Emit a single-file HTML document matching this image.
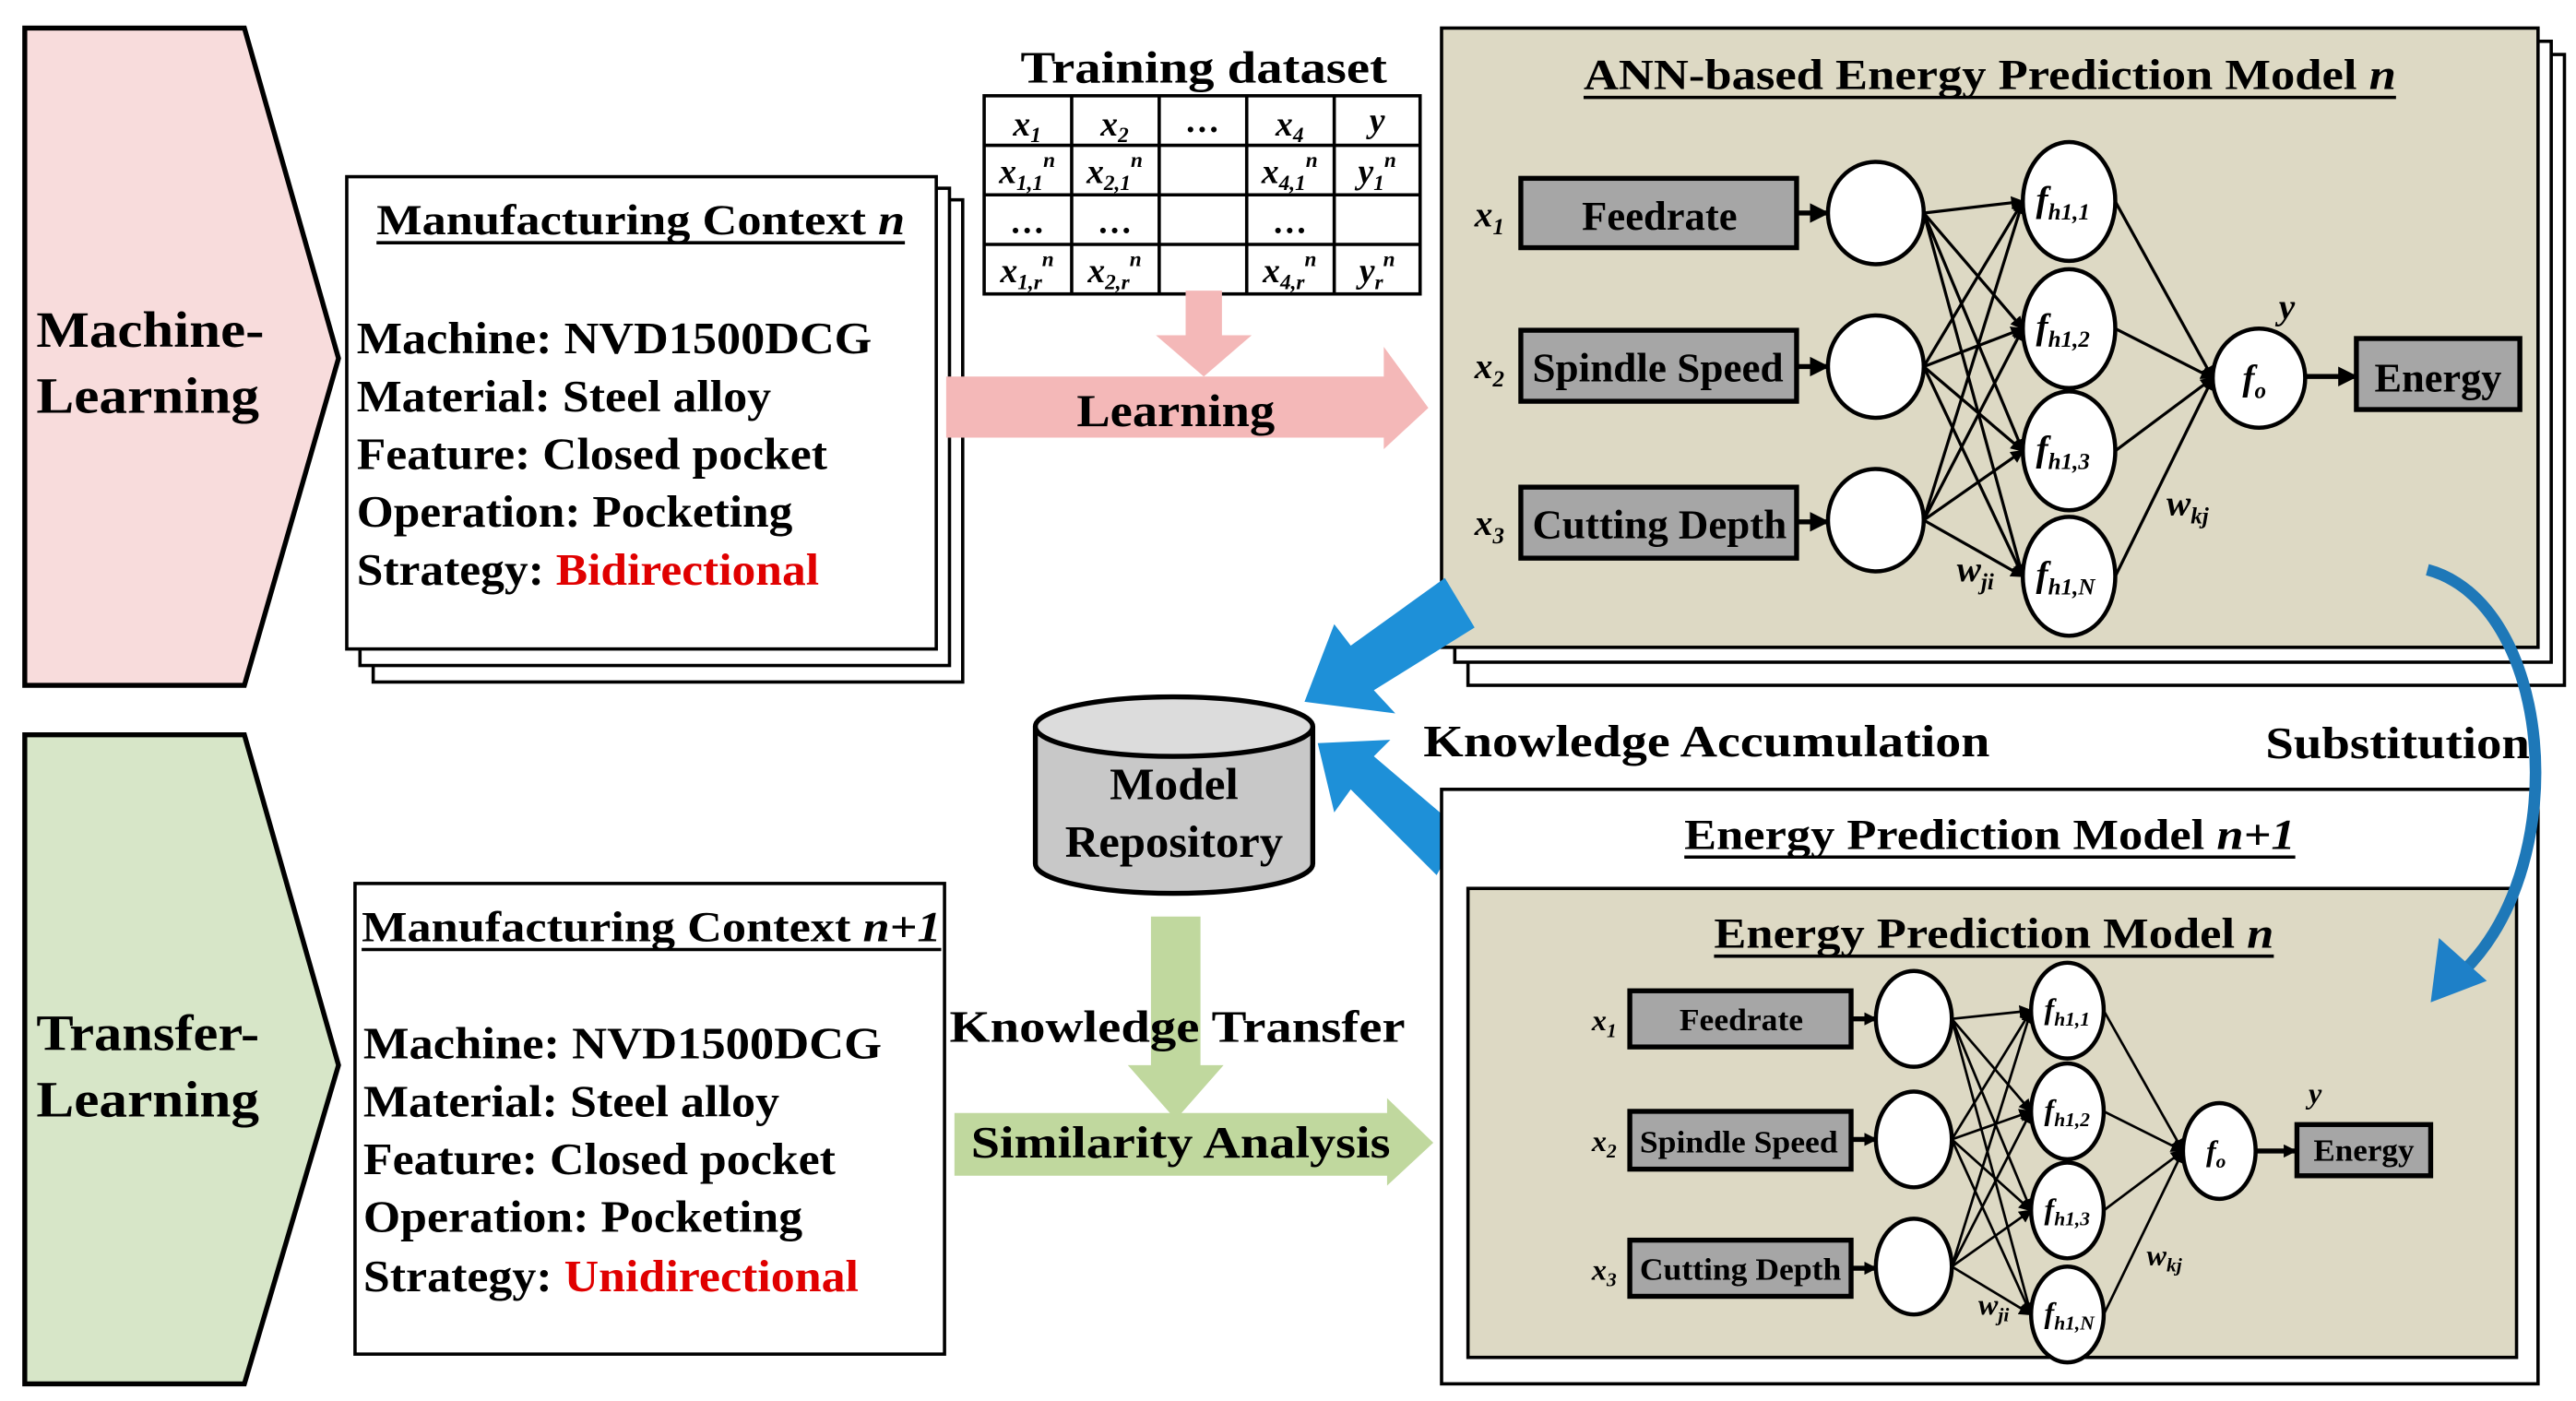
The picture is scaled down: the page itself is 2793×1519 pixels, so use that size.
<!DOCTYPE html>
<html><head><meta charset="utf-8"><style>html,body{margin:0;padding:0;background:#fff}svg{display:block}text{font-family:"Liberation Serif",serif;font-weight:bold}</style></head><body>
<svg width="2793" height="1519" viewBox="0 0 1560 848.4" preserveAspectRatio="none" xmlns="http://www.w3.org/2000/svg">
<defs>
<marker id="ah" markerWidth="8" markerHeight="8" refX="7" refY="4" orient="auto" markerUnits="userSpaceOnUse"><path d="M0,0L8,4L0,8z" fill="#000"/></marker>
<marker id="ah2" markerWidth="12" markerHeight="12" refX="10" refY="6" orient="auto" markerUnits="userSpaceOnUse"><path d="M0,0L12,6L0,12z" fill="#000"/></marker>
</defs>
<g lengthAdjust="spacingAndGlyphs">
<!-- chevrons -->
<polygon points="15,17 148,17 205,217 148,415 15,415" fill="#f8dcdc" stroke="#000" stroke-width="3"/>
<text x="22" y="210" font-size="31" textLength="138" lengthAdjust="spacingAndGlyphs">Machine-</text><text x="22" y="250" font-size="31" textLength="135" lengthAdjust="spacingAndGlyphs">Learning</text>
<polygon points="15,445 148,445 205,645 148,838 15,838" fill="#d7e6c8" stroke="#000" stroke-width="3"/>
<text x="22" y="636" font-size="31" textLength="135" lengthAdjust="spacingAndGlyphs">Transfer-</text><text x="22" y="676" font-size="31" textLength="135" lengthAdjust="spacingAndGlyphs">Learning</text>
<!-- MC n -->
<rect x="226" y="121" width="357" height="292" fill="#fff" stroke="#000" stroke-width="2"/>
<rect x="218" y="114" width="357" height="289" fill="#fff" stroke="#000" stroke-width="2"/>
<rect x="210" y="107" width="357" height="286" fill="#fff" stroke="#000" stroke-width="2"/>
<text x="228" y="142" font-size="26" textLength="320" lengthAdjust="spacingAndGlyphs">Manufacturing Context <tspan font-style="italic">n</tspan></text>
<line x1="228" y1="147" x2="548" y2="147" stroke="#000" stroke-width="2"/>
<g font-size="27"><text x="216" y="214" textLength="312" lengthAdjust="spacingAndGlyphs">Machine: NVD1500DCG</text><text x="216" y="249" textLength="251" lengthAdjust="spacingAndGlyphs">Material: Steel alloy</text><text x="216" y="284" textLength="285" lengthAdjust="spacingAndGlyphs">Feature: Closed pocket</text><text x="216" y="319" textLength="264" lengthAdjust="spacingAndGlyphs">Operation: Pocketing</text><text x="216" y="354" textLength="280" lengthAdjust="spacingAndGlyphs">Strategy: <tspan fill="#e00000">Bidirectional</tspan></text></g>
<!-- MC n+1 -->
<rect x="215" y="535" width="357" height="285" fill="#fff" stroke="#000" stroke-width="2"/>
<text x="219" y="570" font-size="26" textLength="351" lengthAdjust="spacingAndGlyphs">Manufacturing Context <tspan font-style="italic">n+1</tspan></text>
<line x1="219" y1="575" x2="570" y2="575" stroke="#000" stroke-width="2"/>
<g font-size="27"><text x="220" y="641" textLength="314" lengthAdjust="spacingAndGlyphs">Machine: NVD1500DCG</text><text x="220" y="676" textLength="252" lengthAdjust="spacingAndGlyphs">Material: Steel alloy</text><text x="220" y="711" textLength="286" lengthAdjust="spacingAndGlyphs">Feature: Closed pocket</text><text x="220" y="746" textLength="266" lengthAdjust="spacingAndGlyphs">Operation: Pocketing</text><text x="220" y="782" textLength="300" lengthAdjust="spacingAndGlyphs">Strategy: <tspan fill="#e00000">Unidirectional</tspan></text></g>
<!-- training dataset -->
<text x="618" y="50" font-size="27" textLength="222" lengthAdjust="spacingAndGlyphs">Training dataset</text>
<g stroke="#000" stroke-width="2" fill="none"><rect x="596" y="58" width="264" height="120"/>
<line x1="596" y1="88" x2="860" y2="88"/><line x1="596" y1="118" x2="860" y2="118"/><line x1="596" y1="148" x2="860" y2="148"/>
<line x1="649" y1="58" x2="649" y2="178"/><line x1="702" y1="58" x2="702" y2="178"/><line x1="755" y1="58" x2="755" y2="178"/><line x1="808" y1="58" x2="808" y2="178"/></g>
<g font-size="21" font-style="italic" text-anchor="middle" style="font-weight:normal">
<text x="622" y="82">x<tspan font-size="13" dy="4">1</tspan></text><text x="675" y="82">x<tspan font-size="13" dy="4">2</tspan></text><text x="728" y="80" font-style="normal">…</text><text x="781" y="82">x<tspan font-size="13" dy="4">4</tspan></text><text x="834" y="80">y</text>
<text x="622" y="111">x<tspan font-size="13" dy="4">1,1</tspan><tspan font-size="13" dy="-14">n</tspan></text><text x="675" y="111">x<tspan font-size="13" dy="4">2,1</tspan><tspan font-size="13" dy="-14">n</tspan></text><text x="781" y="111">x<tspan font-size="13" dy="4">4,1</tspan><tspan font-size="13" dy="-14">n</tspan></text><text x="834" y="111">y<tspan font-size="13" dy="4">1</tspan><tspan font-size="13" dy="-14">n</tspan></text>
<text x="622" y="141" font-style="normal">…</text><text x="675" y="141" font-style="normal">…</text><text x="781" y="141" font-style="normal">…</text>
<text x="622" y="171">x<tspan font-size="13" dy="4">1,r</tspan><tspan font-size="13" dy="-14">n</tspan></text><text x="675" y="171">x<tspan font-size="13" dy="4">2,r</tspan><tspan font-size="13" dy="-14">n</tspan></text><text x="781" y="171">x<tspan font-size="13" dy="4">4,r</tspan><tspan font-size="13" dy="-14">n</tspan></text><text x="834" y="171">y<tspan font-size="13" dy="4">r</tspan><tspan font-size="13" dy="-14">n</tspan></text>
</g>
<polygon points="718,176 740,176 740,203 758,203 729,228 700,203 718,203" fill="#f4b8b8"/>
<polygon points="573,228 838,228 838,210 865,247 838,272 838,265 573,265" fill="#f4b8b8"/>
<text x="652" y="258" font-size="28" textLength="120" lengthAdjust="spacingAndGlyphs">Learning</text>
<!-- ANN box -->
<rect x="889" y="33" width="664" height="382" fill="#fff" stroke="#000" stroke-width="2"/>
<rect x="881" y="25" width="664" height="376" fill="#fff" stroke="#000" stroke-width="2"/>
<rect x="873" y="17" width="664" height="375" fill="#ddd9c4" stroke="#000" stroke-width="2"/>
<text x="959" y="54" font-size="26" textLength="492" lengthAdjust="spacingAndGlyphs">ANN-based Energy Prediction Model <tspan font-style="italic">n</tspan></text>
<line x1="959" y1="59" x2="1451" y2="59" stroke="#000" stroke-width="2"/>
<g stroke="#000" stroke-width="1.8" marker-end="url(#ah)">
<line x1="1165" y1="129" x2="1225" y2="122"/><line x1="1165" y1="129" x2="1225" y2="199"/><line x1="1165" y1="129" x2="1225" y2="273"/><line x1="1165" y1="129" x2="1225" y2="349"/>
<line x1="1165" y1="222" x2="1225" y2="122"/><line x1="1165" y1="222" x2="1225" y2="199"/><line x1="1165" y1="222" x2="1225" y2="273"/><line x1="1165" y1="222" x2="1225" y2="349"/>
<line x1="1165" y1="315" x2="1225" y2="122"/><line x1="1165" y1="315" x2="1225" y2="199"/><line x1="1165" y1="315" x2="1225" y2="273"/><line x1="1165" y1="315" x2="1225" y2="349"/>
<line x1="1281" y1="122" x2="1340" y2="229"/><line x1="1281" y1="199" x2="1340" y2="229"/><line x1="1281" y1="273" x2="1340" y2="229"/><line x1="1281" y1="349" x2="1340" y2="229"/>
</g>
<g stroke="#000" stroke-width="3" marker-end="url(#ah2)"><line x1="1088" y1="129" x2="1106" y2="129"/><line x1="1088" y1="222" x2="1106" y2="222"/><line x1="1088" y1="316" x2="1106" y2="316"/><line x1="1396" y1="228" x2="1426" y2="228"/></g>
<g fill="#a6a6a6" stroke="#000" stroke-width="3"><rect x="921" y="108" width="167" height="42"/><rect x="921" y="200" width="167" height="43"/><rect x="921" y="295" width="167" height="43"/><rect x="1427" y="205" width="99" height="43"/></g>
<g font-size="25"><text x="958" y="139" textLength="94" lengthAdjust="spacingAndGlyphs">Feedrate</text><text x="928" y="231" textLength="152" lengthAdjust="spacingAndGlyphs">Spindle Speed</text><text x="928" y="326" textLength="154" lengthAdjust="spacingAndGlyphs">Cutting Depth</text><text x="1438" y="237" textLength="77" lengthAdjust="spacingAndGlyphs">Energy</text></g>
<g fill="#fff" stroke="#000" stroke-width="2.5"><ellipse cx="1136" cy="129" rx="29" ry="31"/><ellipse cx="1136" cy="222" rx="29" ry="31"/><ellipse cx="1136" cy="315" rx="29" ry="31"/>
<ellipse cx="1253" cy="122" rx="28" ry="36"/><ellipse cx="1253" cy="199" rx="28" ry="36"/><ellipse cx="1253" cy="273" rx="28" ry="36"/><ellipse cx="1253" cy="349" rx="28" ry="36"/><ellipse cx="1368" cy="229" rx="28" ry="30"/></g>
<g font-style="italic" style="font-weight:normal" font-size="22">
<text x="1233" y="128">f<tspan font-size="14" dy="5">h1,1</tspan></text><text x="1233" y="205">f<tspan font-size="14" dy="5">h1,2</tspan></text><text x="1233" y="279">f<tspan font-size="14" dy="5">h1,3</tspan></text><text x="1233" y="355">f<tspan font-size="14" dy="5">h1,N</tspan></text>
<text x="1358" y="236">f<tspan font-size="14" dy="5">o</tspan></text>
<text x="893" y="137">x<tspan font-size="14" dy="5">1</tspan></text><text x="893" y="229">x<tspan font-size="14" dy="5">2</tspan></text><text x="893" y="324">x<tspan font-size="14" dy="5">3</tspan></text>
<text x="1380" y="193">y</text><text x="1312" y="312">w<tspan font-size="14" dy="5">kj</tspan></text><text x="1185" y="352">w<tspan font-size="14" dy="5">ji</tspan></text>
</g>
<!-- cylinder -->
<path d="M627,440 L627,523 A84,18 0 0 0 795,523 L795,440" fill="#c8c8c8" stroke="#000" stroke-width="3"/>
<ellipse cx="711" cy="440" rx="84" ry="18" fill="#dcdcdc" stroke="#000" stroke-width="3"/>
<text x="672" y="484" font-size="27" textLength="78" lengthAdjust="spacingAndGlyphs">Model</text><text x="645" y="519" font-size="27" textLength="132" lengthAdjust="spacingAndGlyphs">Repository</text>
<!-- blue arrows -->
<polygon points="875,350 893,380 832,418 845,432 790,425 808,378 818,391" fill="#1e90d8"/>
<polygon points="885,503 870,530 818,478 808,492 798,450 842,448 832,458" fill="#1e90d8"/>
<text x="862" y="458" font-size="27" textLength="343" lengthAdjust="spacingAndGlyphs">Knowledge Accumulation</text>
<text x="1372" y="459" font-size="27" textLength="160" lengthAdjust="spacingAndGlyphs">Substitution</text>
<!-- green arrows -->
<polygon points="697,555 727,555 727,645 741,645 712,678 683,645 697,645" fill="#c0d89e"/>
<text x="575" y="631" font-size="27" textLength="276" lengthAdjust="spacingAndGlyphs">Knowledge Transfer</text>
<polygon points="578,674 840,674 840,665 868,692 840,718 840,712 578,712" fill="#c0d89e"/>
<text x="588" y="701" font-size="27" textLength="254" lengthAdjust="spacingAndGlyphs">Similarity Analysis</text>
<!-- n+1 box -->
<rect x="873" y="478" width="664" height="360" fill="#fff" stroke="#000" stroke-width="2"/>
<text x="1020" y="514" font-size="26" textLength="370" lengthAdjust="spacingAndGlyphs">Energy Prediction Model <tspan font-style="italic">n+1</tspan></text>
<line x1="1020" y1="519" x2="1390" y2="519" stroke="#000" stroke-width="2"/>
<rect x="889" y="538" width="635" height="284" fill="#ddd9c4" stroke="#000" stroke-width="2"/>
<text x="1038" y="574" font-size="26" textLength="339" lengthAdjust="spacingAndGlyphs">Energy Prediction Model <tspan font-style="italic">n</tspan></text>
<line x1="1038" y1="579" x2="1377" y2="579" stroke="#000" stroke-width="2"/>
<g stroke="#000" stroke-width="1.5" marker-end="url(#ah)">
<line x1="1182" y1="617" x2="1230" y2="612"/><line x1="1182" y1="617" x2="1230" y2="673"/><line x1="1182" y1="617" x2="1230" y2="733"/><line x1="1182" y1="617" x2="1230" y2="796"/>
<line x1="1182" y1="690" x2="1230" y2="612"/><line x1="1182" y1="690" x2="1230" y2="673"/><line x1="1182" y1="690" x2="1230" y2="733"/><line x1="1182" y1="690" x2="1230" y2="796"/>
<line x1="1182" y1="767" x2="1230" y2="612"/><line x1="1182" y1="767" x2="1230" y2="673"/><line x1="1182" y1="767" x2="1230" y2="733"/><line x1="1182" y1="767" x2="1230" y2="796"/>
<line x1="1274" y1="612" x2="1322" y2="697"/><line x1="1274" y1="673" x2="1322" y2="697"/><line x1="1274" y1="733" x2="1322" y2="697"/><line x1="1274" y1="796" x2="1322" y2="697"/>
</g>
<g stroke="#000" stroke-width="3" marker-end="url(#ah)"><line x1="1121" y1="617" x2="1136" y2="617"/><line x1="1121" y1="690" x2="1136" y2="690"/><line x1="1121" y1="768" x2="1136" y2="768"/><line x1="1366" y1="697" x2="1390" y2="697"/></g>
<g fill="#a6a6a6" stroke="#000" stroke-width="3"><rect x="987" y="600" width="134" height="34"/><rect x="987" y="673" width="134" height="35"/><rect x="987" y="751" width="134" height="34"/><rect x="1391" y="681" width="81" height="31"/></g>
<g font-size="19"><text x="1017" y="624" textLength="75" lengthAdjust="spacingAndGlyphs">Feedrate</text><text x="993" y="698" textLength="120" lengthAdjust="spacingAndGlyphs">Spindle Speed</text><text x="993" y="775" textLength="122" lengthAdjust="spacingAndGlyphs">Cutting Depth</text><text x="1401" y="703" textLength="61" lengthAdjust="spacingAndGlyphs">Energy</text></g>
<g fill="#fff" stroke="#000" stroke-width="2.5"><ellipse cx="1159" cy="617" rx="23" ry="29"/><ellipse cx="1159" cy="690" rx="23" ry="29"/><ellipse cx="1159" cy="767" rx="23" ry="29"/>
<ellipse cx="1252" cy="612" rx="22" ry="29"/><ellipse cx="1252" cy="673" rx="22" ry="29"/><ellipse cx="1252" cy="733" rx="22" ry="29"/><ellipse cx="1252" cy="796" rx="22" ry="29"/><ellipse cx="1344" cy="697" rx="22" ry="29"/></g>
<g font-style="italic" style="font-weight:normal" font-size="18">
<text x="1238" y="617">f<tspan font-size="12" dy="4">h1,1</tspan></text><text x="1238" y="678">f<tspan font-size="12" dy="4">h1,2</tspan></text><text x="1238" y="738">f<tspan font-size="12" dy="4">h1,3</tspan></text><text x="1238" y="801">f<tspan font-size="12" dy="4">h1,N</tspan></text>
<text x="1336" y="703">f<tspan font-size="12" dy="4">o</tspan></text>
<text x="964" y="624">x<tspan font-size="12" dy="4">1</tspan></text><text x="964" y="697">x<tspan font-size="12" dy="4">2</tspan></text><text x="964" y="775">x<tspan font-size="12" dy="4">3</tspan></text>
<text x="1398" y="668">y</text><text x="1300" y="766">w<tspan font-size="12" dy="4">kj</tspan></text><text x="1198" y="796">w<tspan font-size="12" dy="4">ji</tspan></text>
</g>
<!-- substitution curve (on top) -->
<path d="M1470,345 C1545,365 1560,520 1492,588" fill="none" stroke="#1e78b8" stroke-width="7"/>
<polygon points="1472,607 1477,568 1506,594" fill="#1e80c8"/>
</g>
</svg>
</body></html>
